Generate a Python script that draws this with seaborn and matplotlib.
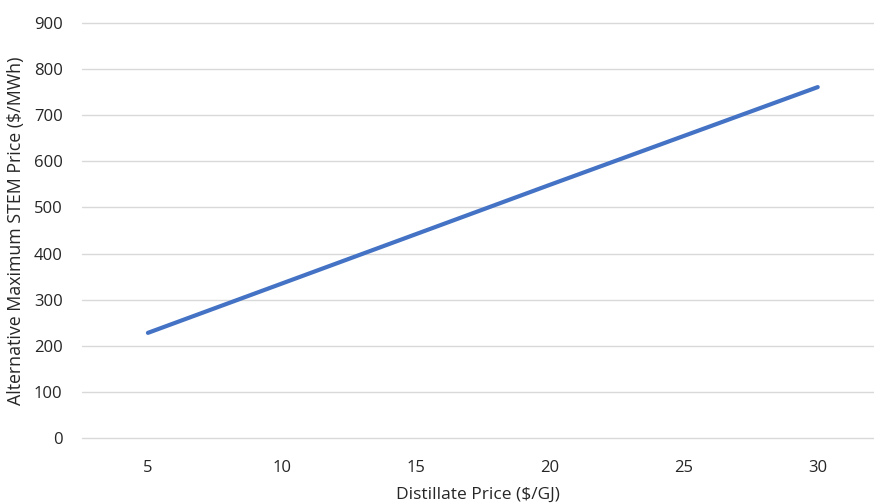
import matplotlib
matplotlib.use('Agg')
import matplotlib.pyplot as plt
import seaborn as sns
import pandas as pd

# distillate price ($/GJ) and the resulting alternative max STEM price ($/MWh)
distillate_price = [5, 10, 15, 20, 25, 30]
stem_price = [228, 335, 442, 549, 655, 761]

df = pd.DataFrame({'distillate': distillate_price, 'stem': stem_price})

sns.set_theme(style='white')
plt.rcParams['font.family'] = ['Open Sans', 'DejaVu Sans']

fig = plt.figure(figsize=(8.74, 5.04), dpi=100)
ax = fig.add_axes([82 / 874, 1 - 438 / 504, (874 - 82) / 874, (438 - 23) / 504])

sns.lineplot(data=df, x='distillate', y='stem', ax=ax, color='#4472C4', linewidth=3.0)

ax.set_xlim(2.54, 32.1)
ax.set_ylim(0, 900)
ax.set_xticks(distillate_price)
ax.set_yticks(range(0, 901, 100))
ax.yaxis.grid(True, color='#D9D9D9', linewidth=1.0)
for g in ax.get_ygridlines():
    g.set_clip_on(False)
ax.set_axisbelow(True)
for s in ax.spines.values():
    s.set_visible(False)
ax.tick_params(axis='both', length=0, labelsize=12, colors='#262626')
ax.tick_params(axis='y', pad=14)
ax.tick_params(axis='x', pad=16)

ax.set_xlabel('Distillate Price ($/GJ)', fontsize=12.5, color='#262626', labelpad=8)
ax.set_ylabel('Alternative Maximum STEM Price ($/MWh)', fontsize=12.8, color='#262626', labelpad=6)

fig.savefig('out.png', dpi=100)
